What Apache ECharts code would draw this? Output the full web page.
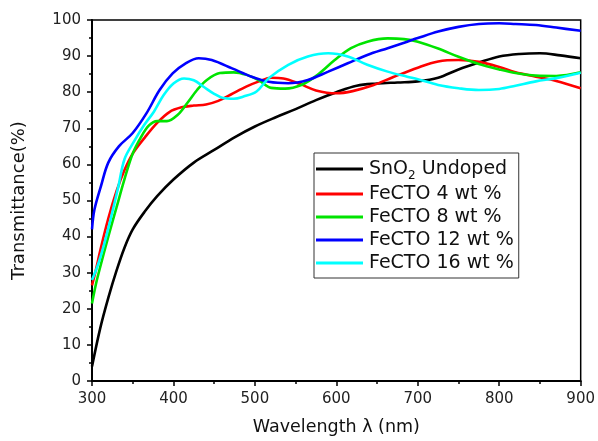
<!DOCTYPE html>
<html>
<head>
<meta charset="utf-8">
<script src="https://cdn.jsdelivr.net/npm/echarts@6/dist/echarts.min.js"></script>
<style>html,body{margin:0;padding:0;background:#fff;}#c{width:598px;height:441px;}</style>
</head>
<body>
<div id="c"></div>
<script>
var seriesNames = ['SnO2 Undoped', 'FeCTO 4 wt %', 'FeCTO 8 wt %', 'FeCTO 12 wt %', 'FeCTO 16 wt %'];
var seriesColors = ['#000000', '#ff0000', '#00e400', '#0000ff', '#00ffff'];

var undopedX = [300,310,320,330,340,350,365,380,400,425,450,475,500,525,550,575,600,625,650,675,700,725,750,775,800,825,850,875,900];
var undopedY = [4,14.5,23,30.5,37,42,47,51.2,55.8,60.5,64,67.5,70.5,73,75.3,77.8,80,81.8,82.4,82.7,83,84,86.3,88.2,89.9,90.6,90.8,90.2,89.4];

var fe4X = [300,305,310,320,330,340,350,365,380,395,410,425,440,455,470,490,505,520,535,555,575,600,620,645,670,700,725,750,775,800,820,845,870,900];
var fe4Y = [26.5,31,36,45,52.5,58.5,63,67.5,71.5,74.5,75.8,76.3,76.6,77.6,79.3,81.6,83,84,83.8,82.3,80.5,79.7,80.3,81.9,84.2,86.8,88.5,88.9,88.4,87,85.5,84.3,83.1,81.1];

var fe8X = [300,305,310,320,330,340,350,360,370,380,392,405,417,429,441,457,474,490,505,520,537,557,577,598,618,638,663,683,700,725,750,775,800,820,845,870,900];
var fe8Y = [21.5,27,31.5,40,48,56,63,67.5,70.8,72,72,73.7,77,80.6,83.4,85.3,85.5,84.8,83.3,81.2,81,82,84.8,88.9,92.2,94,94.9,94.7,94,92.1,89.8,87.8,86.3,85.3,84.6,84.5,85.5];

var fe12X = [300,303,311,320,333,350,367,383,399,415,431,447,472,496,517,541,565,590,614,638,663,687,700,725,750,775,800,820,845,870,900];
var fe12Y = [42,47.5,54,60.5,65,68.7,74.2,80.6,85.2,88,89.4,88.9,86.6,84.3,82.9,82.5,83.4,85.7,88,90.3,92.2,94,95,96.8,98.1,98.9,99.1,98.9,98.6,97.9,97];

var fe16X = [300,307,315,323,332,340,352,364,376,388,400,413,425,437,449,461,474,486,502,517,541,565,590,614,638,663,687,700,725,750,775,800,820,845,870,900];
var fe16Y = [28,32,38,45,53.5,61.5,66.5,70.9,74.6,79.2,82.4,83.8,83.3,81.5,79.7,78.4,78.2,78.8,80.2,83.9,87.6,89.9,90.8,89.9,87.6,85.7,84.3,83.6,82,81.1,80.6,80.9,81.8,83,83.9,85.4];

var xTicksMin = 300, xTicksMax = 900, xStep = 100;
var yTicksMin = 0, yTicksMax = 100, yStep = 10;

var allX = [undopedX, fe4X, fe8X, fe12X, fe16X];
var allY = [undopedY, fe4Y, fe8Y, fe12Y, fe16Y];

function pairs(xs, ys) { return xs.map(function (x, i) { return [x, ys[i]]; }); }

var FONT = '"DejaVu Sans", sans-serif';
var chart = echarts.init(document.getElementById('c'), null, {renderer: 'canvas'});
var series = seriesNames.map(function (n, i) {
  return {
    name: n, type: 'line', smooth: 0.35, showSymbol: false, symbol: 'none',
    data: pairs(allX[i], allY[i]),
    lineStyle: {color: seriesColors[i], width: 2.6},
    itemStyle: {color: seriesColors[i]},
    z: 2 + i
  };
});
chart.setOption({
  animation: false,
  backgroundColor: '#fff',
  grid: {left: 92, right: 13, top: 20, bottom: 59, show: true, borderColor: '#000', borderWidth: 1.5, backgroundColor: 'transparent'},
  legend: {
    data: seriesNames,
    orient: 'vertical',
    left: 314, top: 153,
    padding: [3, 5, 4, 2],
    borderColor: '#333', borderWidth: 1,
    backgroundColor: '#fff',
    itemWidth: 47, itemHeight: 3, itemGap: 1,
    icon: 'rect',
    textStyle: {fontFamily: FONT, fontSize: 19, color: '#111', lineHeight: 22, padding: [0, 0, 0, 1],
      rich: {
        a: {fontFamily: FONT, fontSize: 19, color: '#111', lineHeight: 26},
        sub: {fontFamily: FONT, fontSize: 12, color: '#111', verticalAlign: 'bottom', lineHeight: 26, padding: [9, 0, 0, 0]}
      }},
    formatter: function (name) {
      if (name.indexOf('SnO2') === 0) return '{a|SnO}{sub|2}{a| Undoped}';
      return name;
    }
  },
  xAxis: {
    type: 'value', min: xTicksMin, max: xTicksMax, interval: xStep,
    name: 'Wavelength λ (nm)', nameLocation: 'middle', nameGap: 37,
    nameTextStyle: {fontFamily: FONT, fontSize: 17.5, color: '#111'},
    axisLine: {show: true, onZero: false, lineStyle: {color: '#000', width: 2}},
    axisTick: {show: true, inside: false, length: 5, lineStyle: {color: '#000', width: 1.5}},
    minorTick: {show: true, splitNumber: 2, length: 3, lineStyle: {color: '#000', width: 1.5}},
    axisLabel: {fontFamily: FONT, fontSize: 15, color: '#222', margin: 11},
    splitLine: {show: false}
  },
  yAxis: {
    type: 'value', min: yTicksMin, max: yTicksMax, interval: yStep,
    name: 'Transmittance(%)', nameLocation: 'middle', nameGap: 64, nameRotate: 90,
    nameTextStyle: {fontFamily: FONT, fontSize: 18, color: '#111'},
    axisLine: {show: true, onZero: false, lineStyle: {color: '#000', width: 2}},
    axisTick: {show: true, inside: false, length: 5, lineStyle: {color: '#000', width: 1.5}},
    minorTick: {show: true, splitNumber: 2, length: 3, lineStyle: {color: '#000', width: 1.5}},
    axisLabel: {fontFamily: FONT, fontSize: 15, color: '#222', margin: 11},
    splitLine: {show: false}
  },
  series: series
});
</script>
</body>
</html>
